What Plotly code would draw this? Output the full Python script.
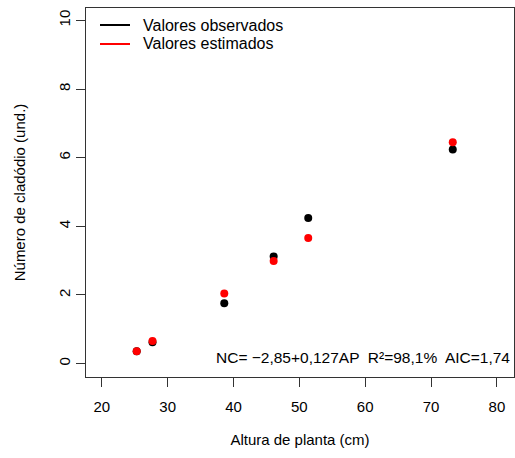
import plotly.graph_objects as go

altura = [25.3, 27.7, 38.6, 46.1, 51.35, 73.3]
observados = [0.36, 0.62, 1.76, 3.12, 4.24, 6.24]
estimados = [0.36, 0.66, 2.04, 2.99, 3.66, 6.45]

x_ticks = [20, 30, 40, 50, 60, 70, 80]
y_ticks = [0, 2, 4, 6, 8, 10]

series_names = ["Valores observados", "Valores estimados"]
series_colors = ["#000000", "#ff0000"]
equation = "NC= \u22122,85+0,127AP  R\u00b2=98,1%  AIC=1,74"

W, H = 515, 458
ML, MR, MT, MB = 86, 1, 8, 81
PW, PH = W - ML - MR, H - MT - MB

def px(X):
    return (X - ML) / PW

def py(Y):
    return (H - MB - Y) / PH

fig = go.Figure()
fig.add_trace(go.Scatter(x=altura, y=observados, mode="markers",
                         marker=dict(color=series_colors[0], size=8),
                         name=series_names[0], showlegend=False))
fig.add_trace(go.Scatter(x=altura, y=estimados, mode="markers",
                         marker=dict(color=series_colors[1], size=8),
                         name=series_names[1], showlegend=False))

font = "Liberation Sans, Arial, sans-serif"

shapes = []
annotations = []
for i, (nm, col) in enumerate(zip(series_names, series_colors)):
    Y = 25 + 19 * i
    shapes.append(dict(type="line", xref="paper", yref="paper",
                       x0=px(100), x1=px(130), y0=py(Y), y1=py(Y),
                       line=dict(color=col, width=2)))
    annotations.append(dict(xref="paper", yref="paper", x=px(141), y=py(Y),
                            xanchor="left", yanchor="middle", text=nm,
                            showarrow=False, font=dict(size=16, color="#000", family=font)))

annotations.append(dict(xref="paper", yref="paper", x=px(214), y=py(357),
                        xanchor="left", yanchor="middle", text=equation,
                        showarrow=False, font=dict(size=15.5, color="#000", family=font)))

fig.update_layout(
    width=W, height=H,
    margin=dict(l=ML, r=MR, t=MT, b=MB),
    paper_bgcolor="white", plot_bgcolor="white",
    font=dict(family=font, size=15, color="#000"),
    shapes=shapes, annotations=annotations,
    showlegend=False,
)
fig.update_xaxes(range=[17.6, 82.6], tickvals=x_ticks, ticks="outside", ticklen=9,
                 tickcolor="#333", showline=True, linecolor="#333", linewidth=1, mirror=True,
                 showgrid=False, zeroline=False, ticklabelstandoff=7,
                 title=dict(text="Altura de planta (cm)", font=dict(size=15), standoff=20),
                 tickfont=dict(size=15))
fig.update_yaxes(range=[-0.39, 10.36], tickvals=y_ticks, ticks="outside", ticklen=9,
                 tickcolor="#333", showline=True, linecolor="#333", linewidth=1, mirror=True,
                 showgrid=False, zeroline=False, tickangle=-90,
                 title=dict(text="Número de cladódio (und.)", font=dict(size=15), standoff=26),
                 tickfont=dict(size=15))

fig.write_html("out.html", config={"displayModeBar": False},
               post_script="document.body.style.margin='0';document.body.style.overflow='hidden';")
